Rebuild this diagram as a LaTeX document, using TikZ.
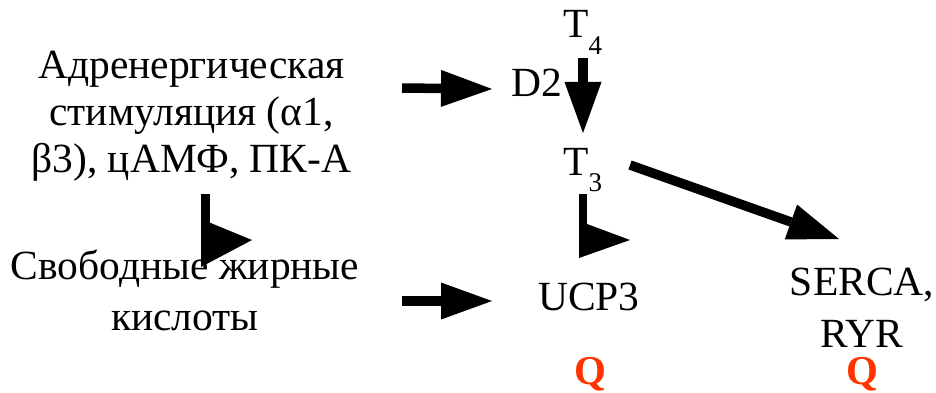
\documentclass[tikz,border=0pt]{standalone}
\usepackage{fontspec}
\setmainfont{Liberation Serif}
\usetikzlibrary{arrows.meta}
\definecolor{qred}{RGB}{255,51,0}
% lowered index used for the thyroid hormones
\newcommand{\hsub}[1]{\raisebox{-17pt}{\fontsize{27}{27}\selectfont #1}}
\begin{document}
\begin{tikzpicture}[x=1pt,y=-1pt,
  txt/.style={inner sep=0pt, anchor=base, align=center,
    font=\fontsize{41.5}{47}\selectfont},
  qmark/.style={inner sep=0pt, anchor=base, text=qred,
    font=\fontsize{41}{47}\selectfont\bfseries},
  fatarrow/.style={line width=9.5pt,
    -{Triangle[length=51pt,width=37pt,line width=0pt]}},
  stemline/.style={line width=9pt},
  headfill/.style={fill=black}]
\useasboundingbox[fill=white] (0,0) rectangle (936,393);

% labels (a multi-line node sits on the baseline of its last line)
\node[txt] (adr) at (191.5,172) {Адренергическая\\стимуляция (α1,\\β3), цАМФ, ПК-А};
\node[txt, font=\fontsize{41.5}{51}\selectfont] (ffa) at (185,330) {Свободные жирные\\кислоты};
\node[txt] (d2) at (537,97) {D2};
\node[txt, anchor=base west] (t4) at (563,38) {T\hsub{4}};
\node[txt, anchor=base west] (t3) at (563,175) {T\hsub{3}};
\node[txt] (ucp) at (589,310) {UCP3};
\node[txt, font=\fontsize{41.5}{52}\selectfont] (serca) at (862,347) {SERCA,\\RYR};
\node[qmark] (q1) at (590.5,384) {Q};
\node[qmark] (q2) at (862.5,384) {Q};

% arrow end points
\coordinate (a1s) at (402,88);  \coordinate (a1e) at (492,89);
\coordinate (a2s) at (402,301); \coordinate (a2e) at (492,301);
\coordinate (a3s) at (583,58);  \coordinate (a3e) at (583,133);
\coordinate (a4s) at (630,165); \coordinate (a4e) at (839,239);

\draw[fatarrow] (a1s) -- (a1e);
\draw[fatarrow] (a2s) -- (a2e);
\draw[fatarrow] (a3s) -- (a3e);
\draw[fatarrow] (a4s) -- (a4e);

% bent arrows: a stem going down into a right-pointing head
\coordinate (b1s) at (205.5,194); \coordinate (b1e) at (205.5,226);
\draw[stemline] (b1s) -- (b1e);
\fill[headfill] (201,219) -- (252,240) -- (201,267) -- cycle;

\coordinate (b2s) at (583,194); \coordinate (b2e) at (583,226);
\draw[stemline, line width=8pt] (b2s) -- (b2e);
\fill[headfill] (579,221) -- (630,240) -- (579,258) -- cycle;
\end{tikzpicture}
\end{document}
